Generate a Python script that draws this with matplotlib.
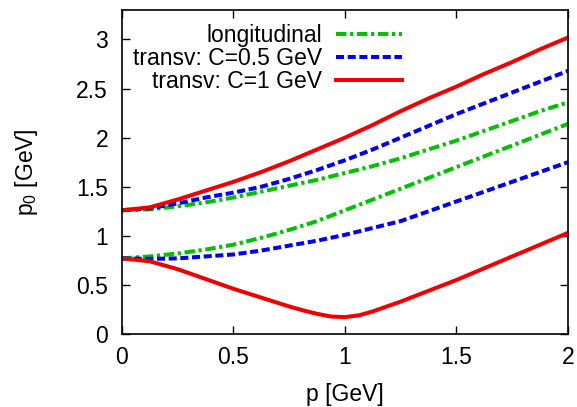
import numpy as np
import matplotlib
matplotlib.use('Agg')
import matplotlib.pyplot as plt

plt.rcParams['font.family'] = ['Liberation Sans', 'DejaVu Sans']
plt.rcParams['mathtext.fontset'] = 'custom'
plt.rcParams['mathtext.rm'] = 'Liberation Sans'
plt.rcParams['mathtext.it'] = 'Liberation Sans:italic'

# momentum grid (GeV)
p = [0, 0.125, 0.25, 0.375, 0.5, 0.625, 0.75, 0.875, 1.0,
     1.125, 1.25, 1.375, 1.5, 1.625, 1.75, 1.875, 2.0]

# longitudinal branches
long_up = [1.26, 1.27, 1.30, 1.34, 1.39, 1.45, 1.51, 1.57, 1.64,
           1.71, 1.79, 1.88, 1.97, 2.07, 2.17, 2.27, 2.36]
long_lo = [0.77, 0.79, 0.82, 0.86, 0.91, 0.98, 1.06, 1.15, 1.26,
           1.37, 1.48, 1.59, 1.70, 1.81, 1.92, 2.03, 2.14]

# transverse, C = 0.5 GeV
t05_up = [1.26, 1.28, 1.33, 1.39, 1.44, 1.50, 1.58, 1.67, 1.77,
          1.88, 2.00, 2.12, 2.24, 2.35, 2.46, 2.57, 2.68]
t05_lo = [0.77, 0.765, 0.77, 0.79, 0.81, 0.85, 0.90, 0.95, 1.01,
          1.08, 1.15, 1.25, 1.35, 1.45, 1.55, 1.65, 1.75]

# transverse, C = 1 GeV
t1_up = [1.26, 1.29, 1.37, 1.46, 1.55, 1.65, 1.76, 1.88, 2.00,
         2.13, 2.27, 2.40, 2.52, 2.65, 2.77, 2.90, 3.02]
p_t1lo = [0, 0.125, 0.25, 0.375, 0.5, 0.625, 0.75, 0.8125, 0.875, 0.9375,
          1.0, 1.0625, 1.125, 1.25, 1.375, 1.5, 1.625, 1.75, 1.875, 2.0]
t1_lo = [0.77, 0.74, 0.66, 0.56, 0.46, 0.37, 0.28, 0.24, 0.205, 0.178,
         0.172, 0.19, 0.23, 0.33, 0.44, 0.55, 0.67, 0.79, 0.91, 1.03]

green = '#00c000'
blue = '#0000ee'
red = '#ee0000'
fs = 16.5

fig = plt.figure(figsize=(5.77, 4.07), dpi=100)
ax = fig.add_axes([0.2114, 0.1794, 0.7730, 0.7960])

dashdot = (2.6, 0.9, 0.8, 0.9)
dash = (2.0, 0.9)
ax.plot(p, long_up, color=green, lw=2.9, dashes=dashdot, label='longitudinal')
ax.plot(p, long_lo, color=green, lw=2.9, dashes=dashdot)
ax.plot(p, t05_up, color=blue, lw=2.9, dashes=dash, label='transv: C=0.5 GeV')
ax.plot(p, t05_lo, color=blue, lw=2.9, dashes=dash)
ax.plot(p, t1_up, color=red, lw=2.9, label='transv: C=1 GeV')
ax.plot(p_t1lo, t1_lo, color=red, lw=2.9)

ax.set_xlim(0, 2)
ax.set_ylim(0, 3.3)
ax.set_xticks([0, 0.5, 1, 1.5, 2])
ax.set_xticklabels(['0', '0.5', '1', '1.5', '2'])
ax.set_yticks([0, 0.5, 1, 1.5, 2, 2.5, 3])
ax.set_yticklabels(['0', '0.5', '1', '1.5', '2', '2.5', '3'])
ax.tick_params(axis='x', pad=9)
ax.tick_params(axis='y', pad=10)
ax.tick_params(direction='in', top=True, right=True, length=6, width=1,
               labelsize=fs)
for s in ax.spines.values():
    s.set_linewidth(1.2)

ax.set_xlabel('p [GeV]', fontsize=fs, labelpad=10)
ax.set_ylabel(r'p$_\mathregular{0}$ [GeV]', fontsize=fs, labelpad=26)

ax.legend(loc='upper right', bbox_to_anchor=(0.628, 0.956), frameon=False,
          markerfirst=False, fontsize=fs, handlelength=2.9, handletextpad=0.6,
          labelspacing=0.0, borderpad=0, borderaxespad=0)

fig.savefig('out.png', dpi=100)
